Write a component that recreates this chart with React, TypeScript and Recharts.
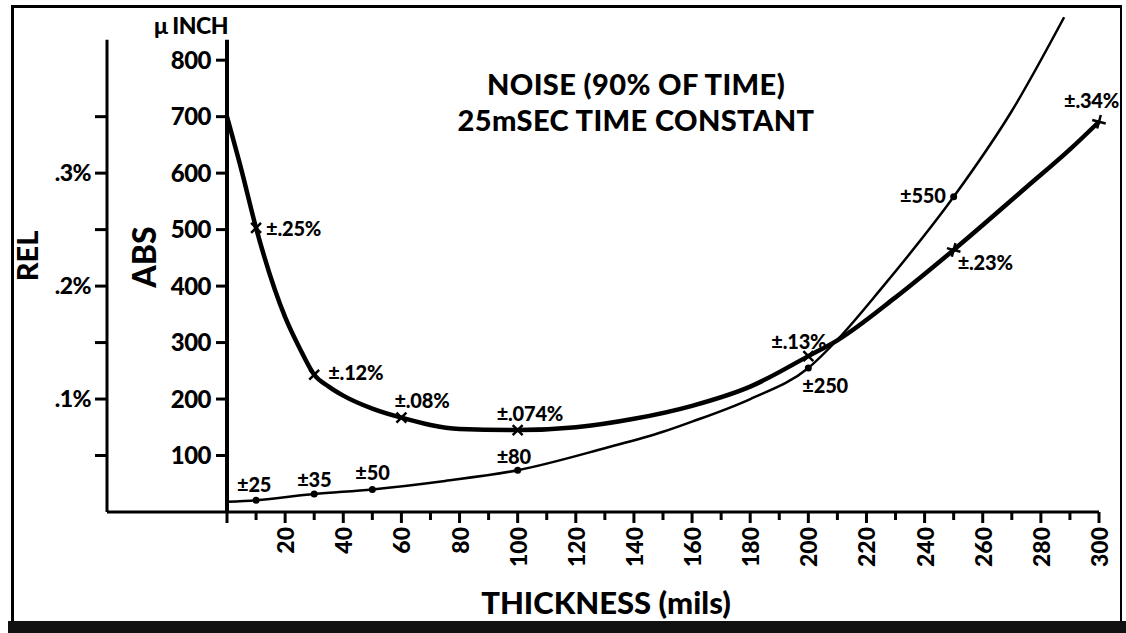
import React from "react";
import { LineChart, Line, XAxis, YAxis, ReferenceLine } from "recharts";

// thickness (mils) and absolute noise (micro-inch), thin curve
const THIN_X = [0, 10, 30, 50, 75, 100, 130, 150, 160, 180, 200, 210, 225, 250, 270, 288];
const THIN_ABS = [18, 21, 32, 40, 55, 74, 113, 142, 160, 200, 255, 305, 395, 558, 710, 876];
const THIN_MARK_X = [10, 30, 50, 100, 200, 250];
const THIN_MARK_LABELS = ["±25", "±35", "±50", "±80", "±250", "±550"];

// thickness (mils) and relative noise (%), thick curve
const THICK_X = [0, 5, 10, 20, 25, 30, 35, 40, 50, 60, 80, 100, 120, 140, 160, 180, 200, 210, 230, 250, 275, 290, 300];
const THICK_REL = [
  0.35, 0.3025, 0.2515, 0.1725, 0.145, 0.1215, 0.111, 0.103, 0.0915, 0.0835, 0.0735, 0.0725, 0.075,
  0.0825, 0.094, 0.111, 0.138, 0.152, 0.19, 0.232, 0.2875, 0.321, 0.3455,
];
const THICK_MARK_X = [10, 30, 60, 100, 200, 250, 300];
const THICK_MARK_LABELS = ["±.25%", "±.12%", "±.08%", "±.074%", "±.13%", "±.23%", "±.34%"];

const X_TICKS = [0, 10, 20, 30, 40, 50, 60, 70, 80, 90, 100, 110, 120, 130, 140, 150, 160, 170, 180, 190, 200, 210, 220, 230, 240, 250, 260, 270, 280, 290, 300];
const ABS_TICKS = [100, 200, 300, 400, 500, 600, 700, 800];
const REL_TICKS = [0.05, 0.1, 0.15, 0.2, 0.25, 0.3, 0.35];
const REL_TICK_LABELS = ["", ".1%", "", ".2%", "", ".3%", ""];

// layout / style
const W = 1126;
const H = 633;
const FONT = "Lato, 'DejaVu Sans', sans-serif";
const WEIGHT = 900;
const MARGIN = { top: 15, right: 27, bottom: 16, left: 10 };
const REL_W = 97;
const ABS_W = 120;
const X_AXIS_H = 105;
const ABS_MAX = 880;
const REL_MAX = ABS_MAX / 2000;
const AXIS_TOP = 836; // where the vertical axis lines stop
const PLOT_W = W - MARGIN.left - REL_W - ABS_W - MARGIN.right;
const PLOT_H = H - MARGIN.top - MARGIN.bottom - X_AXIS_H;
const AXIS_GAP = PLOT_H * (1 - AXIS_TOP / ABS_MAX);
const X_EXT = (-ABS_W * 300) / PLOT_W;

const THIN_LABEL_POS = [
  { dx: -19, dy: -16, a: "start" },
  { dx: -17, dy: -15, a: "start" },
  { dx: -17, dy: -17, a: "start" },
  { dx: -21, dy: -14, a: "start" },
  { dx: -6, dy: 17, a: "start" },
  { dx: -8, dy: -2, a: "end" },
];
const THICK_LABEL_POS = [
  { dx: 10, dy: 0, shape: "x" },
  { dx: 14, dy: -3, shape: "x" },
  { dx: -7, dy: -18, shape: "x" },
  { dx: -21, dy: -17, shape: "x" },
  { dx: -37, dy: -15, shape: "x" },
  { dx: 4, dy: 12, shape: "+" },
  { dx: -35, dy: -22, shape: "+" },
];

const thinRows = THIN_X.map((x, i) => ({ x, v: THIN_ABS[i] }));
const thickRows = THICK_X.map((x, i) => ({ x, v: THICK_REL[i] }));

const bold = (size: number) => ({ fontFamily: FONT, fontWeight: WEIGHT, fontSize: size, fill: "#000" });
const labelStyle = { ...bold(20), letterSpacing: -0.2 };

const ThinDot = (props: any) => {
  const { cx, cy, payload, index } = props;
  const i = THIN_MARK_X.indexOf(payload.x);
  if (i < 0) return <g key={`td${index}`} />;
  const p = THIN_LABEL_POS[i];
  return (
    <g key={`td${index}`}>
      <circle cx={cx} cy={cy} r={3.5} fill="#000" />
      <text x={cx + p.dx} y={cy + p.dy} textAnchor={p.a as any} dominantBaseline="central" style={labelStyle}>
        {THIN_MARK_LABELS[i]}
      </text>
    </g>
  );
};

const ThickDot = (props: any) => {
  const { cx, cy, payload, index } = props;
  const i = THICK_MARK_X.indexOf(payload.x);
  if (i < 0) return <g key={`kd${index}`} />;
  const p = THICK_LABEL_POS[i];
  const r = 7;
  const rot = p.shape === "x" ? 45 : 15;
  return (
    <g key={`kd${index}`}>
      <g transform={`rotate(${rot} ${cx} ${cy})`} stroke="#000" strokeWidth={2.5}>
        <line x1={cx - r} y1={cy} x2={cx + r} y2={cy} />
        <line x1={cx} y1={cy - r} x2={cx} y2={cy + r} />
      </g>
      <text x={cx + p.dx} y={cy + p.dy} dominantBaseline="central" style={labelStyle}>
        {THICK_MARK_LABELS[i]}
      </text>
    </g>
  );
};

const XTick = (props: any) => {
  const { x, y, payload } = props;
  const v = payload.value;
  const major = v % 20 === 0;
  const ly = y + 15;
  return (
    <g>
      <line x1={x} x2={x} y1={y} y2={y + (major ? 11 : 8)} stroke="#000" strokeWidth={3} />
      {major && v > 0 && (
        <text
          x={x}
          y={ly}
          transform={`rotate(-90 ${x} ${ly})`}
          textAnchor="end"
          dominantBaseline="central"
          style={bold(23)}
        >
          {v}
        </text>
      )}
    </g>
  );
};

export default function App() {
  return (
    <div style={{ position: "absolute", left: 0, top: 0, width: W, height: H, background: "#fff", overflow: "hidden" }}>
      <div
        style={{
          position: "absolute",
          left: 11,
          top: 5,
          width: 1122 - 11,
          height: 622 - 5,
          borderLeft: "3px solid #000",
          borderTop: "3px solid #000",
          borderRight: "2px solid #000",
          boxSizing: "border-box",
        }}
      />
      <div style={{ position: "absolute", left: 8, top: 621, width: W - 8, height: H - 621, background: "#111" }} />
      <div style={{ position: "absolute", left: 0, top: 0 }}>
        <LineChart width={W} height={H} margin={MARGIN}>
          <XAxis
            dataKey="x"
            type="number"
            domain={[0, 300]}
            ticks={X_TICKS}
            interval={0}
            height={X_AXIS_H}
            tickSize={0}
            tickMargin={0}
            tickLine={false}
            tick={<XTick />}
            axisLine={{ stroke: "#000", strokeWidth: 3 }}
            allowDuplicatedCategory={false}
          />
          <YAxis
            yAxisId="abs"
            orientation="left"
            type="number"
            width={ABS_W}
            domain={[0, ABS_MAX]}
            ticks={ABS_TICKS}
            interval={0}
            tickSize={11}
            tickMargin={5}
            tickLine={{ stroke: "#000", strokeWidth: 3 }}
            axisLine={{ stroke: "#000", strokeWidth: 4, strokeDasharray: `0 ${AXIS_GAP} ${PLOT_H}` }}
            tick={{ ...bold(24), letterSpacing: -0.5 }}
          />
          <YAxis
            yAxisId="rel"
            orientation="left"
            type="number"
            width={REL_W}
            domain={[0, REL_MAX]}
            ticks={REL_TICKS}
            interval={0}
            tickSize={12}
            tickMargin={4}
            tickFormatter={(_v: number, i: number) => REL_TICK_LABELS[i]}
            tickLine={{ stroke: "#000", strokeWidth: 3 }}
            axisLine={{ stroke: "#000", strokeWidth: 3, strokeDasharray: `0 ${AXIS_GAP} ${PLOT_H}` }}
            tick={{ ...bold(23), letterSpacing: -0.5 }}
          />
          <ReferenceLine
            yAxisId="abs"
            segment={[
              { x: X_EXT, y: 0 },
              { x: 0, y: 0 },
            ]}
            ifOverflow="visible"
            stroke="#000"
            strokeWidth={3}
          />
          <Line
            yAxisId="abs"
            data={thinRows}
            dataKey="v"
            type="monotone"
            stroke="#000"
            strokeWidth={2.5}
            dot={ThinDot}
            activeDot={false}
            isAnimationActive={false}
          />
          <Line
            yAxisId="rel"
            data={thickRows}
            dataKey="v"
            type="monotone"
            stroke="#000"
            strokeWidth={4.5}
            dot={ThickDot}
            activeDot={false}
            isAnimationActive={false}
          />
        </LineChart>
      </div>
      <svg width={W} height={H} style={{ position: "absolute", left: 0, top: 0, pointerEvents: "none" }}>
        <text x={191} y={25} textAnchor="middle" dominantBaseline="central" style={{ ...bold(23), letterSpacing: -0.5 }}>
          μ INCH
        </text>
        <text x={636} y={83} textAnchor="middle" dominantBaseline="central" style={{ ...bold(29), letterSpacing: 0.4 }}>
          NOISE (90% OF TIME)
        </text>
        <text x={636} y={119} textAnchor="middle" dominantBaseline="central" style={{ ...bold(29), letterSpacing: 0.4 }}>
          25mSEC TIME CONSTANT
        </text>
        <text x={143} y={257} textAnchor="middle" dominantBaseline="central" transform="rotate(-90 143 257)" style={bold(32)}>
          ABS
        </text>
        <text x={26} y={256} textAnchor="middle" dominantBaseline="central" transform="rotate(-90 26 256)" style={bold(29)}>
          REL
        </text>
        <text x={606} y={602} textAnchor="middle" dominantBaseline="central" style={bold(31)}>
          THICKNESS (mils)
        </text>
      </svg>
    </div>
  );
}
